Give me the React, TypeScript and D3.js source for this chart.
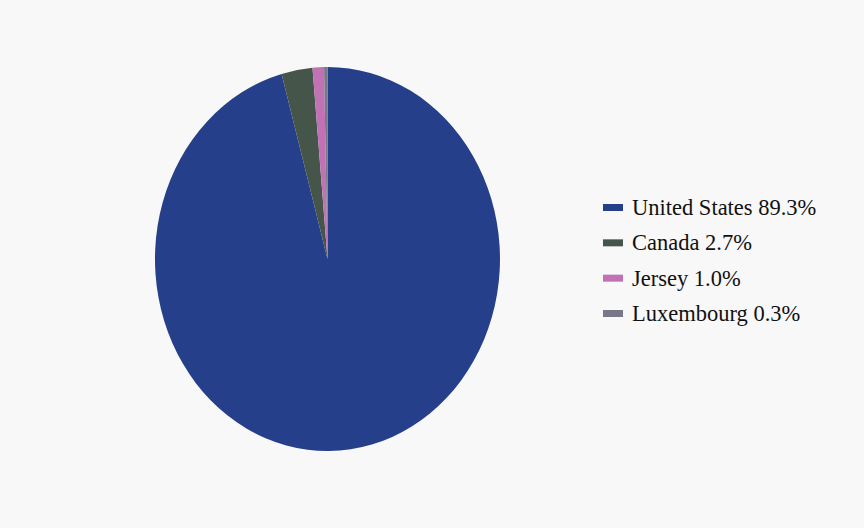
import React from "react";
import * as d3 from "d3";

const countries = ["United States", "Canada", "Jersey", "Luxembourg"];
const shares = [89.3, 2.7, 1.0, 0.3];
const colors = ["#253f8a", "#46554a", "#c172b5", "#787889"];

const WIDTH = 864;
const HEIGHT = 528;
const CENTER = { x: 327.5, y: 259 };
const RX = 172.5;
const RY = 192;

interface Slice {
  name: string;
  value: number;
  color: string;
}

export default function App() {
  const data: Slice[] = countries.map((name, i) => ({ name, value: shares[i], color: colors[i] }));

  const pie = d3
    .pie<Slice>()
    .sort(null)
    .value((d) => d.value);
  // unit radius, then stretched into the ellipse
  const arc = d3.arc<d3.PieArcDatum<Slice>>().innerRadius(0).outerRadius(1);
  const arcs = pie(data);

  const legendY = d3
    .scalePoint<string>()
    .domain(countries)
    .range([207.5, 313.5]);

  return (
    <svg
      width={WIDTH}
      height={HEIGHT}
      style={{ position: "absolute", left: 0, top: 0, display: "block", background: "#f8f8f8" }}
    >
      <g transform={`translate(${CENTER.x},${CENTER.y}) scale(${RX},${RY})`}>
        {arcs.map((a) => (
          <path key={a.data.name} d={arc(a) ?? ""} fill={a.data.color} />
        ))}
      </g>

      {/* Legend */}
      <g
        style={{
          fontFamily: '"Liberation Serif", Tinos, "Times New Roman", "Nimbus Roman", "DejaVu Serif", serif',
          fontSize: "22.5px",
        }}
        fill="#111"
      >
        {data.map((d) => {
          const y = legendY(d.name) ?? 0;
          return (
            <g key={d.name} transform={`translate(603,${y})`}>
              <rect x={0} y={-3.5} width={20} height={7} fill={d.color} />
              <text x={29} y={7.5}>
                {`${d.name} ${d.value.toFixed(1)}%`}
              </text>
            </g>
          );
        })}
      </g>
    </svg>
  );
}
